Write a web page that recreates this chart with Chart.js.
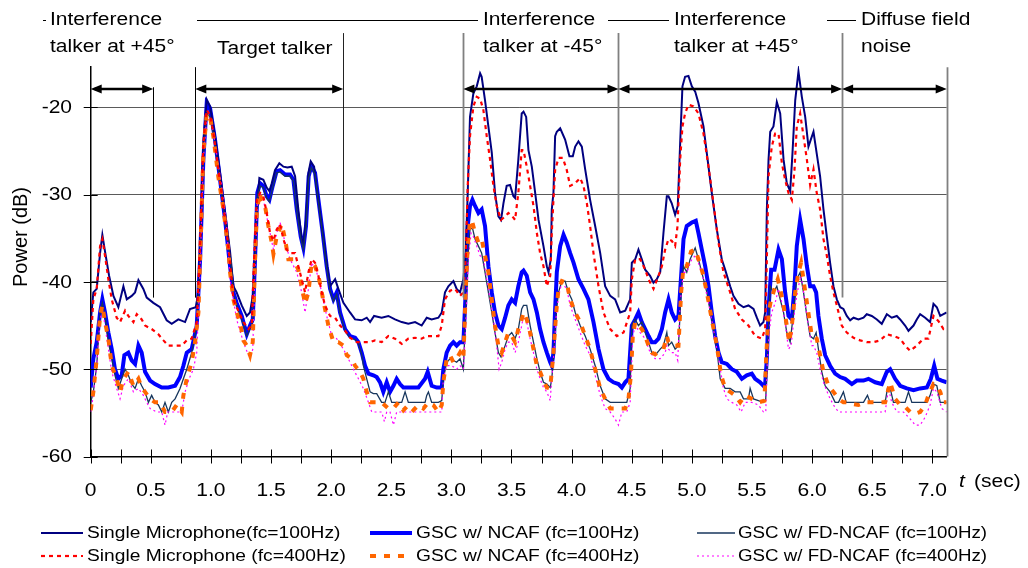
<!DOCTYPE html>
<html>
<head>
<meta charset="utf-8">
<script src="https://cdn.jsdelivr.net/npm/chart.js@4.4.1/dist/chart.umd.min.js"></script>
<style>
  html, body { margin: 0; padding: 0; background: #fff; }
  canvas { display: block; }
</style>
</head>
<body>
<canvas id="canvas" width="1028" height="568"></canvas>
<script>
// [time (sec), power (dB)]
const singleMic100 = [
  [0,-44.6],[0.022,-41.2],[0.05,-40.8],[0.078,-36.7],[0.097,-34.6],[0.119,-36.5],[0.153,-39.3],[0.189,-41.6],[0.23,-42.9],[0.272,-40.5],
  [0.3,-42.0],[0.341,-41.6],[0.369,-41.2],[0.397,-39.8],[0.438,-40.8],[0.466,-41.8],[0.521,-42.4],[0.577,-42.9],[0.632,-44.4],[0.674,-44.8],
  [0.729,-44.3],[0.785,-44.6],[0.826,-43.1],[0.874,-42.9],[0.896,-41.2],[0.918,-33.6],[0.937,-24.1],[0.965,-19.1],[0.993,-19.9],[1.034,-23.3],
  [1.076,-27.5],[1.118,-32.1],[1.159,-36.5],[1.187,-40.5],[1.214,-41.2],[1.256,-42.7],[1.298,-43.9],[1.325,-43.5],[1.353,-41.2],[1.381,-32.1],
  [1.403,-28.1],[1.436,-28.3],[1.464,-29.2],[1.486,-29.6],[1.506,-28.7],[1.533,-27.2],[1.569,-26.4],[1.603,-26.8],[1.636,-26.9],[1.672,-26.8],
  [1.7,-27.9],[1.727,-31.7],[1.755,-35.1],[1.769,-35.7],[1.791,-32.9],[1.811,-27.5],[1.83,-26.2],[1.858,-26.8],[1.886,-29.8],[1.922,-33.6],
  [1.958,-37.4],[1.991,-40.5],[2.033,-39.7],[2.06,-40.8],[2.102,-42.4],[2.157,-43.5],[2.199,-44.3],[2.254,-44.4],[2.296,-44.1],[2.324,-44.6],
  [2.357,-43.9],[2.42,-44.1],[2.476,-43.9],[2.531,-44.3],[2.587,-44.6],[2.642,-44.8],[2.698,-44.6],[2.753,-45.0],[2.795,-44.1],[2.836,-44.3],
  [2.892,-44.1],[2.92,-43.5],[2.947,-41.2],[2.975,-40.5],[3.017,-39.9],[3.044,-40.8],[3.072,-41.2],[3.1,-39.7],[3.119,-36.7],[3.136,-29.8],
  [3.155,-21.1],[3.183,-18.4],[3.211,-17.6],[3.239,-16.1],[3.252,-16.5],[3.28,-19.2],[3.308,-22.2],[3.336,-25.2],[3.363,-29.8],[3.391,-32.5],
  [3.413,-32.9],[3.433,-31.0],[3.46,-29.0],[3.488,-28.9],[3.516,-30.2],[3.53,-30.4],[3.557,-26.0],[3.585,-20.7],[3.6,-20.5],[3.622,-21.1],
  [3.641,-24.9],[3.669,-26.8],[3.697,-29.8],[3.725,-32.9],[3.766,-35.9],[3.794,-38.2],[3.808,-38.9],[3.827,-37.4],[3.835,-31.7],[3.849,-29.8],
  [3.863,-23.3],[3.877,-22.8],[3.905,-22.4],[3.946,-23.7],[3.982,-25.6],[4.01,-25.6],[4.03,-24.5],[4.057,-23.9],[4.085,-24.5],[4.113,-27.1],
  [4.154,-30.6],[4.196,-33.6],[4.238,-36.7],[4.279,-40.5],[4.321,-41.6],[4.362,-42.0],[4.404,-43.5],[4.446,-43.3],[4.487,-42.0],[4.501,-37.8],
  [4.529,-37.4],[4.556,-36.3],[4.584,-37.4],[4.612,-38.6],[4.653,-39.3],[4.681,-40.1],[4.709,-39.7],[4.737,-38.9],[4.764,-34.4],[4.792,-30.2],
  [4.806,-30.2],[4.833,-31.0],[4.861,-32.3],[4.883,-31.3],[4.903,-24.1],[4.922,-17.6],[4.944,-16.5],[4.972,-16.4],[5.0,-17.6],[5.028,-18.2],
  [5.055,-19.5],[5.097,-22.2],[5.125,-25.3],[5.166,-29.8],[5.208,-34.0],[5.249,-37.4],[5.277,-38.6],[5.319,-40.5],[5.346,-41.6],[5.388,-42.5],
  [5.43,-42.9],[5.471,-42.7],[5.513,-43.1],[5.541,-44.1],[5.568,-45.0],[5.596,-44.6],[5.61,-43.5],[5.624,-31.7],[5.638,-26.0],[5.652,-22.8],
  [5.679,-22.2],[5.707,-19.4],[5.735,-20.7],[5.763,-26.0],[5.79,-28.7],[5.818,-29.6],[5.837,-25.3],[5.86,-19.2],[5.887,-15.9],[5.915,-18.8],
  [5.943,-21.1],[5.97,-24.5],[6.012,-22.8],[6.039,-25.3],[6.067,-27.9],[6.095,-31.7],[6.123,-34.8],[6.15,-37.8],[6.178,-40.5],[6.206,-42.0],
  [6.234,-42.9],[6.261,-43.1],[6.289,-43.9],[6.317,-44.4],[6.345,-44.1],[6.386,-44.3],[6.428,-44.1],[6.455,-43.7],[6.497,-43.9],[6.539,-44.3],
  [6.58,-44.8],[6.622,-43.7],[6.663,-44.1],[6.705,-43.9],[6.733,-44.3],[6.774,-45.0],[6.802,-45.6],[6.844,-45.0],[6.871,-44.3],[6.899,-43.7],
  [6.941,-44.1],[6.982,-44.6],[7.01,-42.5],[7.038,-42.9],[7.066,-43.9],[7.093,-43.7],[7.12,-43.5]
];
const singleMic400 = [
  [0,-47.1],[0.022,-42.0],[0.05,-40.8],[0.078,-35.9],[0.097,-35.1],[0.119,-37.0],[0.147,-39.7],[0.175,-42.0],[0.216,-44.1],[0.244,-44.6],
  [0.286,-43.3],[0.313,-43.9],[0.355,-44.6],[0.383,-43.7],[0.424,-44.3],[0.452,-45.0],[0.507,-45.4],[0.563,-46.0],[0.605,-46.7],[0.646,-47.3],
  [0.702,-47.3],[0.757,-47.3],[0.799,-46.7],[0.84,-46.5],[0.882,-44.6],[0.91,-35.5],[0.937,-24.1],[0.965,-20.3],[0.993,-20.9],[1.021,-23.0],
  [1.062,-27.2],[1.104,-31.4],[1.145,-35.9],[1.187,-42.0],[1.214,-42.9],[1.27,-44.6],[1.312,-45.4],[1.339,-45.0],[1.359,-37.4],[1.381,-30.6],
  [1.409,-29.8],[1.436,-30.2],[1.464,-32.1],[1.492,-34.4],[1.52,-35.3],[1.547,-34.0],[1.575,-33.4],[1.603,-35.1],[1.63,-36.3],[1.658,-36.7],
  [1.7,-36.7],[1.727,-38.2],[1.755,-39.7],[1.783,-41.2],[1.811,-38.9],[1.838,-37.4],[1.866,-37.8],[1.894,-39.3],[1.922,-41.2],[1.949,-42.7],
  [1.991,-43.9],[2.033,-44.1],[2.074,-45.0],[2.116,-45.6],[2.157,-46.4],[2.213,-46.9],[2.268,-46.9],[2.324,-46.9],[2.365,-46.7],[2.42,-46.9],
  [2.476,-46.2],[2.531,-46.5],[2.587,-47.1],[2.642,-46.5],[2.698,-46.4],[2.753,-46.5],[2.795,-46.2],[2.836,-46.2],[2.892,-46.2],[2.92,-45.0],
  [2.947,-42.0],[2.989,-41.0],[3.031,-40.8],[3.072,-41.6],[3.1,-41.2],[3.119,-37.4],[3.136,-29.0],[3.155,-23.3],[3.183,-19.9],[3.211,-18.8],
  [3.239,-19.0],[3.266,-20.3],[3.294,-23.3],[3.322,-26.0],[3.35,-29.0],[3.377,-31.3],[3.413,-32.9],[3.447,-32.5],[3.474,-32.1],[3.508,-32.5],
  [3.53,-32.9],[3.557,-29.8],[3.585,-24.9],[3.6,-24.9],[3.627,-26.8],[3.655,-29.0],[3.683,-31.3],[3.711,-34.4],[3.738,-36.7],[3.766,-38.2],
  [3.794,-40.5],[3.822,-39.3],[3.835,-34.4],[3.849,-30.6],[3.863,-27.2],[3.891,-25.8],[3.927,-25.8],[3.96,-27.2],[3.988,-29.0],[4.03,-28.7],
  [4.071,-28.1],[4.099,-29.0],[4.127,-31.0],[4.154,-33.6],[4.182,-36.7],[4.224,-40.5],[4.265,-43.5],[4.321,-45.4],[4.376,-46.2],[4.432,-45.8],
  [4.487,-43.5],[4.501,-39.7],[4.529,-37.4],[4.57,-37.4],[4.612,-38.6],[4.64,-39.7],[4.681,-40.8],[4.723,-39.3],[4.751,-38.2],[4.778,-36.3],
  [4.806,-35.1],[4.833,-35.3],[4.861,-35.9],[4.881,-33.6],[4.903,-26.0],[4.922,-22.2],[4.944,-20.7],[4.972,-19.7],[5.014,-19.9],[5.055,-20.7],
  [5.097,-23.0],[5.139,-26.8],[5.18,-31.0],[5.222,-35.5],[5.263,-38.9],[5.319,-41.2],[5.36,-43.1],[5.416,-44.3],[5.471,-45.0],[5.527,-46.2],
  [5.582,-46.5],[5.61,-45.4],[5.624,-37.4],[5.638,-27.9],[5.665,-24.5],[5.693,-23.0],[5.721,-23.0],[5.749,-26.4],[5.776,-28.3],[5.804,-29.8],
  [5.832,-30.6],[5.854,-27.2],[5.873,-22.2],[5.901,-20.7],[5.929,-23.3],[5.957,-26.0],[5.984,-28.9],[6.012,-27.1],[6.039,-29.8],[6.067,-31.7],
  [6.095,-35.1],[6.123,-37.0],[6.15,-39.3],[6.178,-41.2],[6.206,-42.7],[6.247,-45.0],[6.289,-45.8],[6.345,-46.4],[6.4,-46.7],[6.455,-46.9],
  [6.511,-46.9],[6.566,-46.7],[6.622,-46.0],[6.677,-46.2],[6.733,-46.5],[6.774,-47.3],[6.816,-47.9],[6.871,-47.3],[6.927,-46.5],[6.968,-46.5],
  [7.01,-43.9],[7.052,-44.5],[7.093,-45.4],[7.12,-45.2]
];
const gscNcaf100 = [
  [0,-52.1],[0.022,-48.8],[0.05,-46.9],[0.078,-43.5],[0.097,-42.0],[0.119,-43.5],[0.147,-45.8],[0.175,-47.7],[0.202,-50.0],[0.23,-51.1],
  [0.258,-50.7],[0.28,-48.4],[0.313,-48.1],[0.341,-49.0],[0.369,-49.4],[0.397,-47.3],[0.424,-48.1],[0.452,-50.3],[0.494,-51.3],[0.535,-51.7],
  [0.591,-52.1],[0.646,-52.1],[0.702,-51.9],[0.743,-50.9],[0.771,-49.6],[0.799,-48.1],[0.84,-47.7],[0.882,-45.0],[0.91,-37.4],[0.937,-26.0],
  [0.965,-19.5],[0.993,-20.1],[1.034,-23.7],[1.076,-28.3],[1.118,-32.9],[1.159,-38.2],[1.187,-41.2],[1.214,-42.4],[1.256,-43.9],[1.298,-46.0],
  [1.325,-45.0],[1.348,-44.3],[1.367,-37.4],[1.386,-29.8],[1.409,-28.7],[1.436,-29.0],[1.464,-30.2],[1.486,-30.6],[1.514,-29.0],[1.547,-27.3],
  [1.575,-27.2],[1.617,-27.7],[1.658,-27.7],[1.686,-28.3],[1.714,-31.7],[1.747,-34.8],[1.769,-36.1],[1.791,-33.6],[1.813,-27.9],[1.836,-26.7],
  [1.866,-27.5],[1.894,-30.6],[1.93,-34.4],[1.963,-38.2],[1.991,-40.8],[2.019,-42.0],[2.046,-41.2],[2.074,-43.5],[2.116,-45.4],[2.157,-46.2],
  [2.199,-46.4],[2.227,-46.9],[2.254,-48.1],[2.282,-49.6],[2.31,-50.5],[2.351,-50.7],[2.379,-50.9],[2.407,-51.5],[2.434,-52.6],[2.462,-51.5],
  [2.49,-52.6],[2.518,-51.9],[2.545,-51.1],[2.573,-51.7],[2.601,-52.1],[2.67,-52.1],[2.726,-52.1],[2.781,-51.1],[2.803,-50.3],[2.836,-51.9],
  [2.878,-52.1],[2.92,-52.1],[2.933,-50.0],[2.961,-48.1],[2.989,-47.3],[3.017,-46.9],[3.044,-47.3],[3.072,-46.9],[3.1,-46.9],[3.119,-41.2],
  [3.136,-33.6],[3.155,-31.3],[3.175,-30.6],[3.197,-31.3],[3.225,-32.1],[3.252,-31.7],[3.28,-33.6],[3.308,-38.2],[3.336,-41.2],[3.363,-43.5],
  [3.391,-45.0],[3.419,-45.4],[3.447,-44.1],[3.474,-42.7],[3.502,-42.0],[3.53,-42.4],[3.557,-40.5],[3.585,-38.9],[3.6,-38.7],[3.627,-39.3],
  [3.655,-41.2],[3.683,-42.0],[3.711,-43.5],[3.738,-45.4],[3.766,-46.9],[3.794,-48.1],[3.822,-49.2],[3.835,-49.6],[3.849,-48.1],[3.863,-43.1],
  [3.877,-38.9],[3.905,-35.9],[3.933,-34.6],[3.96,-35.5],[3.988,-36.7],[4.016,-37.8],[4.057,-39.7],[4.099,-40.8],[4.14,-42.0],[4.182,-44.6],
  [4.224,-47.7],[4.265,-50.0],[4.307,-51.1],[4.348,-51.5],[4.39,-51.7],[4.418,-52.1],[4.446,-51.5],[4.473,-51.1],[4.501,-45.0],[4.529,-44.3],
  [4.556,-43.5],[4.584,-44.6],[4.612,-45.4],[4.64,-46.2],[4.667,-46.9],[4.695,-46.9],[4.723,-46.5],[4.751,-45.4],[4.778,-43.5],[4.806,-42.0],
  [4.833,-43.5],[4.861,-44.3],[4.889,-43.9],[4.911,-39.3],[4.931,-35.1],[4.958,-33.6],[5.0,-33.2],[5.033,-33.0],[5.055,-34.4],[5.083,-36.3],
  [5.111,-38.2],[5.139,-40.5],[5.166,-43.5],[5.194,-46.2],[5.222,-48.1],[5.249,-49.2],[5.291,-49.4],[5.333,-50.0],[5.374,-50.3],[5.416,-51.1],
  [5.457,-50.7],[5.499,-50.5],[5.527,-51.1],[5.568,-51.5],[5.596,-51.9],[5.61,-51.7],[5.624,-48.8],[5.638,-43.1],[5.66,-38.6],[5.688,-38.6],
  [5.721,-36.3],[5.749,-37.4],[5.776,-41.2],[5.804,-43.9],[5.832,-44.3],[5.854,-40.5],[5.873,-35.9],[5.901,-32.9],[5.929,-35.1],[5.957,-38.2],
  [5.984,-40.5],[6.012,-40.5],[6.034,-41.2],[6.053,-43.9],[6.081,-46.5],[6.109,-48.4],[6.15,-49.6],[6.192,-50.5],[6.234,-50.9],[6.275,-51.1],
  [6.331,-51.7],[6.372,-51.3],[6.428,-51.3],[6.469,-51.1],[6.525,-51.5],[6.58,-51.7],[6.622,-50.3],[6.65,-50.0],[6.691,-51.1],[6.733,-51.9],
  [6.788,-52.2],[6.844,-52.4],[6.899,-52.2],[6.955,-52.1],[6.988,-51.1],[7.016,-49.6],[7.043,-51.1],[7.079,-51.3],[7.12,-51.5]
];
const gscNcaf400 = [
  [0,-54.7],[0.022,-52.6],[0.05,-48.8],[0.078,-43.9],[0.097,-42.7],[0.119,-44.6],[0.147,-46.5],[0.175,-49.6],[0.216,-51.1],[0.244,-52.6],
  [0.272,-51.1],[0.313,-50.3],[0.355,-51.9],[0.397,-51.1],[0.424,-52.1],[0.452,-52.6],[0.494,-53.4],[0.535,-53.8],[0.577,-53.8],[0.618,-54.9],
  [0.674,-54.9],[0.715,-54.1],[0.757,-54.9],[0.771,-53.0],[0.799,-51.1],[0.84,-49.2],[0.868,-46.9],[0.896,-43.5],[0.91,-37.4],[0.937,-25.3],
  [0.965,-20.7],[0.993,-21.1],[1.021,-23.4],[1.062,-28.0],[1.104,-31.7],[1.145,-36.3],[1.159,-38.9],[1.187,-42.0],[1.214,-43.5],[1.242,-44.6],
  [1.27,-46.7],[1.298,-47.3],[1.325,-48.4],[1.348,-46.9],[1.367,-37.4],[1.381,-32.3],[1.403,-29.8],[1.422,-30.6],[1.45,-31.3],[1.478,-33.6],
  [1.506,-35.5],[1.52,-36.8],[1.547,-34.8],[1.589,-33.4],[1.617,-35.1],[1.644,-37.4],[1.686,-37.4],[1.727,-38.6],[1.755,-40.5],[1.783,-42.5],
  [1.811,-41.2],[1.838,-37.8],[1.866,-38.2],[1.894,-39.3],[1.922,-41.2],[1.949,-43.1],[1.977,-45.0],[2.019,-46.9],[2.06,-46.9],[2.102,-47.3],
  [2.13,-48.4],[2.171,-48.8],[2.199,-49.6],[2.24,-50.3],[2.268,-51.1],[2.296,-52.6],[2.324,-53.8],[2.365,-53.8],[2.42,-53.8],[2.476,-54.5],
  [2.518,-54.5],[2.559,-53.8],[2.601,-54.7],[2.642,-54.1],[2.684,-54.7],[2.726,-54.1],[2.767,-54.5],[2.809,-53.8],[2.85,-54.1],[2.892,-54.9],
  [2.92,-54.1],[2.933,-51.5],[2.961,-48.8],[2.989,-48.4],[3.017,-49.2],[3.044,-48.8],[3.072,-48.1],[3.1,-48.8],[3.119,-41.2],[3.136,-35.9],
  [3.155,-32.9],[3.175,-33.2],[3.197,-34.4],[3.225,-35.5],[3.252,-35.1],[3.28,-37.0],[3.308,-38.9],[3.336,-42.0],[3.363,-45.0],[3.391,-47.3],
  [3.419,-48.1],[3.447,-46.9],[3.474,-45.8],[3.502,-46.2],[3.53,-46.9],[3.557,-45.4],[3.585,-44.3],[3.6,-43.5],[3.627,-44.3],[3.655,-45.8],
  [3.683,-47.7],[3.711,-49.6],[3.738,-50.3],[3.766,-51.3],[3.794,-52.1],[3.822,-52.2],[3.849,-48.1],[3.872,-43.5],[3.891,-40.8],[3.919,-39.9],
  [3.96,-40.1],[3.988,-42.0],[4.03,-43.5],[4.071,-44.6],[4.113,-46.2],[4.154,-47.7],[4.196,-50.0],[4.238,-52.2],[4.279,-53.4],[4.321,-54.5],
  [4.362,-54.5],[4.404,-54.5],[4.446,-54.5],[4.473,-53.4],[4.493,-50.7],[4.509,-46.2],[4.529,-44.6],[4.556,-45.0],[4.584,-45.4],[4.612,-46.2],
  [4.64,-47.3],[4.667,-48.1],[4.695,-48.3],[4.737,-47.9],[4.764,-47.7],[4.792,-46.2],[4.806,-46.9],[4.833,-47.3],[4.861,-47.3],[4.889,-47.3],
  [4.911,-41.2],[4.931,-38.2],[4.958,-38.2],[4.994,-36.5],[5.028,-36.3],[5.055,-37.4],[5.089,-38.9],[5.125,-41.2],[5.166,-44.3],[5.208,-47.3],
  [5.244,-50.7],[5.277,-52.2],[5.319,-52.6],[5.36,-53.0],[5.402,-53.8],[5.444,-53.0],[5.499,-53.4],[5.554,-53.8],[5.604,-53.6],[5.618,-48.8],
  [5.638,-43.5],[5.66,-42.0],[5.688,-40.8],[5.715,-39.7],[5.735,-40.8],[5.763,-42.7],[5.79,-45.0],[5.81,-46.9],[5.832,-45.0],[5.86,-41.2],
  [5.887,-38.9],[5.909,-37.8],[5.937,-40.5],[5.965,-43.1],[5.998,-46.2],[6.012,-46.2],[6.039,-46.5],[6.067,-48.4],[6.095,-50.3],[6.137,-51.9],
  [6.178,-52.6],[6.22,-53.4],[6.261,-53.8],[6.303,-53.8],[6.345,-54.0],[6.386,-54.1],[6.442,-53.8],[6.497,-53.8],[6.539,-53.8],[6.608,-53.8],
  [6.65,-51.5],[6.691,-53.4],[6.733,-54.1],[6.774,-54.3],[6.816,-54.9],[6.858,-55.1],[6.899,-54.9],[6.941,-54.1],[6.968,-53.0],[7.01,-51.7],
  [7.038,-51.9],[7.066,-52.6],[7.093,-53.8],[7.12,-53.8]
];
const fdNcaf100 = [
  [0,-53.8],[0.022,-52.6],[0.05,-49.6],[0.078,-43.5],[0.097,-42.4],[0.119,-43.9],[0.147,-46.9],[0.175,-48.8],[0.202,-50.7],[0.23,-52.2],
  [0.258,-51.1],[0.286,-50.0],[0.313,-50.7],[0.341,-51.7],[0.369,-52.2],[0.397,-51.1],[0.424,-51.9],[0.452,-52.6],[0.48,-53.8],[0.507,-53.0],
  [0.535,-53.8],[0.563,-54.1],[0.591,-54.9],[0.618,-53.8],[0.646,-54.9],[0.674,-53.8],[0.702,-53.4],[0.743,-52.2],[0.771,-51.1],[0.799,-50.0],
  [0.84,-48.1],[0.882,-45.0],[0.91,-37.4],[0.937,-26.0],[0.965,-20.7],[0.993,-21.1],[1.034,-24.1],[1.076,-28.7],[1.118,-32.9],[1.173,-38.6],
  [1.187,-41.4],[1.214,-42.7],[1.256,-44.3],[1.298,-46.2],[1.325,-45.4],[1.348,-44.6],[1.367,-37.8],[1.386,-30.2],[1.409,-29.0],[1.436,-29.2],
  [1.464,-30.4],[1.486,-30.8],[1.514,-29.2],[1.547,-27.5],[1.575,-27.4],[1.617,-27.9],[1.658,-27.9],[1.686,-28.5],[1.714,-31.9],[1.747,-35.0],
  [1.769,-36.3],[1.791,-33.8],[1.813,-28.1],[1.836,-26.9],[1.866,-27.7],[1.894,-30.8],[1.93,-34.6],[1.963,-38.4],[1.991,-41.0],[2.019,-42.2],
  [2.046,-41.4],[2.074,-43.7],[2.116,-45.6],[2.157,-46.4],[2.199,-46.6],[2.227,-47.1],[2.254,-48.3],[2.268,-49.6],[2.296,-51.1],[2.324,-52.6],
  [2.351,-52.8],[2.379,-52.8],[2.42,-53.8],[2.448,-53.8],[2.476,-52.6],[2.504,-53.8],[2.587,-53.8],[2.615,-52.6],[2.642,-53.8],[2.781,-53.8],
  [2.795,-53.0],[2.809,-52.6],[2.836,-53.8],[2.892,-53.8],[2.92,-53.6],[2.933,-51.1],[2.961,-49.2],[2.989,-48.8],[3.017,-49.0],[3.044,-49.2],
  [3.072,-48.8],[3.1,-50.0],[3.114,-45.0],[3.136,-37.4],[3.155,-34.0],[3.175,-33.8],[3.197,-35.1],[3.225,-35.9],[3.252,-36.7],[3.28,-38.9],
  [3.308,-41.2],[3.336,-43.5],[3.363,-45.8],[3.391,-48.1],[3.413,-48.6],[3.447,-47.3],[3.474,-46.2],[3.502,-45.8],[3.53,-46.5],[3.557,-45.4],
  [3.585,-43.1],[3.6,-42.7],[3.627,-42.7],[3.655,-45.0],[3.683,-46.9],[3.711,-48.8],[3.738,-50.3],[3.766,-51.5],[3.794,-51.7],[3.822,-52.1],
  [3.835,-51.1],[3.849,-48.8],[3.872,-43.5],[3.891,-41.2],[3.919,-39.9],[3.946,-39.9],[3.974,-41.2],[4.002,-42.0],[4.03,-43.5],[4.071,-45.0],
  [4.113,-46.2],[4.154,-47.7],[4.196,-49.6],[4.238,-51.9],[4.279,-53.4],[4.321,-53.8],[4.362,-53.8],[4.404,-53.8],[4.459,-53.8],[4.487,-52.2],
  [4.501,-45.0],[4.529,-44.3],[4.556,-45.0],[4.584,-44.6],[4.612,-45.8],[4.64,-46.9],[4.667,-48.1],[4.695,-48.4],[4.737,-47.7],[4.764,-47.3],
  [4.792,-45.8],[4.806,-47.3],[4.833,-46.9],[4.861,-47.7],[4.889,-47.3],[4.911,-41.2],[4.931,-38.2],[4.958,-38.9],[4.986,-37.4],[5.028,-36.1],
  [5.055,-37.4],[5.083,-38.9],[5.125,-41.2],[5.166,-44.3],[5.208,-47.7],[5.236,-51.1],[5.277,-52.2],[5.319,-52.2],[5.36,-52.6],[5.402,-52.6],
  [5.43,-53.4],[5.471,-53.4],[5.485,-52.2],[5.513,-53.4],[5.554,-53.6],[5.596,-53.8],[5.615,-53.4],[5.632,-46.9],[5.652,-40.5],[5.679,-41.2],
  [5.707,-40.5],[5.735,-42.0],[5.763,-43.5],[5.79,-45.8],[5.818,-46.9],[5.846,-43.5],[5.873,-39.7],[5.901,-38.9],[5.929,-41.2],[5.957,-43.9],
  [5.984,-46.2],[6.012,-46.5],[6.034,-45.8],[6.053,-47.7],[6.081,-50.3],[6.109,-51.9],[6.15,-52.6],[6.192,-53.8],[6.22,-53.8],[6.261,-52.6],
  [6.284,-53.8],[6.331,-53.8],[6.386,-53.8],[6.428,-53.8],[6.461,-53.0],[6.483,-53.8],[6.539,-53.8],[6.608,-53.8],[6.627,-52.2],[6.65,-52.2],
  [6.677,-53.8],[6.774,-53.8],[6.802,-52.6],[6.83,-53.8],[6.955,-53.8],[6.982,-53.0],[7.01,-51.7],[7.038,-51.9],[7.066,-53.8],[7.12,-53.8]
];
const fdNcaf400 = [
  [0,-54.9],[0.022,-53.0],[0.05,-49.6],[0.078,-44.3],[0.097,-43.1],[0.119,-45.0],[0.147,-47.7],[0.175,-50.3],[0.216,-52.2],[0.244,-53.4],
  [0.272,-51.9],[0.313,-51.1],[0.355,-52.6],[0.397,-52.2],[0.438,-53.0],[0.466,-53.8],[0.494,-54.5],[0.549,-54.9],[0.591,-54.9],[0.618,-56.4],
  [0.641,-54.9],[0.688,-54.9],[0.757,-54.9],[0.785,-52.6],[0.818,-51.1],[0.854,-50.0],[0.882,-48.1],[0.91,-38.6],[0.937,-26.0],[0.965,-21.1],
  [1.007,-21.8],[1.048,-25.3],[1.09,-29.1],[1.131,-33.6],[1.159,-39.7],[1.214,-44.3],[1.27,-46.9],[1.312,-48.4],[1.331,-48.6],[1.348,-47.7],
  [1.367,-38.2],[1.386,-31.1],[1.409,-29.8],[1.436,-30.6],[1.464,-32.5],[1.492,-34.4],[1.52,-36.3],[1.547,-34.4],[1.575,-33.2],[1.617,-35.5],
  [1.658,-37.4],[1.714,-38.9],[1.755,-41.2],[1.783,-43.5],[1.811,-40.8],[1.838,-37.8],[1.88,-38.9],[1.922,-41.2],[1.963,-43.9],[2.005,-46.2],
  [2.046,-46.5],[2.102,-47.7],[2.143,-48.8],[2.185,-50.0],[2.227,-51.1],[2.268,-52.2],[2.31,-53.8],[2.338,-54.9],[2.379,-54.9],[2.42,-54.9],
  [2.443,-56.0],[2.462,-54.9],[2.49,-54.9],[2.518,-56.4],[2.545,-54.9],[2.92,-54.9],[2.933,-51.1],[2.961,-49.6],[3.003,-49.6],[3.044,-50.0],
  [3.072,-49.6],[3.1,-50.0],[3.119,-45.0],[3.141,-37.4],[3.164,-34.4],[3.183,-34.8],[3.211,-35.9],[3.239,-37.0],[3.266,-37.4],[3.294,-39.7],
  [3.322,-42.0],[3.35,-44.3],[3.377,-47.3],[3.397,-50.0],[3.419,-49.2],[3.447,-47.7],[3.474,-46.9],[3.502,-46.9],[3.53,-48.1],[3.557,-46.9],
  [3.585,-45.0],[3.6,-43.9],[3.627,-44.6],[3.655,-46.5],[3.683,-48.1],[3.711,-50.0],[3.738,-51.1],[3.766,-52.1],[3.794,-52.6],[3.822,-53.6],
  [3.835,-51.1],[3.849,-48.8],[3.872,-43.9],[3.891,-41.6],[3.919,-40.1],[3.96,-40.8],[3.988,-42.7],[4.03,-44.3],[4.071,-45.8],[4.113,-47.3],
  [4.154,-48.4],[4.196,-50.7],[4.238,-53.0],[4.279,-54.5],[4.321,-54.9],[4.362,-55.7],[4.39,-56.4],[4.418,-54.9],[4.459,-54.9],[4.487,-53.8],
  [4.509,-46.2],[4.529,-45.0],[4.57,-45.8],[4.612,-46.5],[4.653,-48.1],[4.695,-48.8],[4.737,-48.8],[4.778,-48.1],[4.792,-47.3],[4.806,-47.7],
  [4.833,-48.1],[4.861,-48.1],[4.883,-49.0],[4.903,-42.4],[4.931,-38.9],[4.958,-38.9],[5.0,-37.4],[5.028,-37.0],[5.055,-37.8],[5.097,-39.7],
  [5.139,-42.4],[5.18,-45.4],[5.222,-48.8],[5.263,-52.2],[5.291,-53.4],[5.333,-53.8],[5.374,-54.1],[5.41,-54.9],[5.444,-53.8],[5.499,-53.8],
  [5.554,-54.1],[5.596,-54.9],[5.615,-54.9],[5.627,-49.6],[5.643,-45.8],[5.665,-43.5],[5.693,-42.4],[5.721,-40.8],[5.749,-42.4],[5.776,-44.6],
  [5.804,-47.7],[5.826,-47.3],[5.86,-42.7],[5.887,-40.5],[5.909,-39.3],[5.937,-41.9],[5.965,-44.6],[5.998,-47.3],[6.012,-47.3],[6.039,-48.1],
  [6.067,-50.0],[6.095,-51.5],[6.137,-53.0],[6.178,-54.1],[6.22,-54.9],[6.289,-54.9],[6.372,-54.9],[6.455,-54.9],[6.539,-54.9],[6.608,-54.9],
  [6.636,-52.2],[6.663,-53.8],[6.705,-54.9],[6.76,-54.9],[6.816,-55.7],[6.858,-56.4],[6.899,-56.4],[6.941,-55.5],[6.982,-54.1],[7.01,-52.2],
  [7.038,-52.6],[7.079,-54.5],[7.12,-54.9]
];

const yTicks = [-60, -50, -40, -30, -20];
const xTickTimes = [0,0.25,0.5,0.75,1,1.25,1.5,1.75,2,2.25,2.5,2.75,3,3.25,3.5,3.75,4,4.25,4.5,4.75,5,5.25,5.5,5.75,6,6.25,6.5,6.75,7];
const xLabelTimes = [0,0.5,1,1.5,2,2.5,3,3.5,4,4.5,5,5.5,6,6.5,7];
const xLabels = ['0','0.5','1.0','1.5','2.0','2.5','3.0','3.5','4.0','4.5','5.0','5.5','6.0','6.5','7.0'];

// section boundaries of the recording (sec)
const sections = [0, 0.52, 0.87, 2.1, 3.1, 4.39, 6.25, 7.12];

const FONT = '"Liberation Sans", Arial, sans-serif';
const SX = 1.2; // the original figure text is a bit wide

function pts(a) { return a.map(p => ({x: p[0], y: p[1]})); }

function txt(ctx, s, x, y, size, align, base, italic) {
  ctx.save();
  ctx.translate(x, y);
  ctx.scale(SX, 1);
  ctx.font = (italic ? 'italic ' : '') + size + 'px ' + FONT;
  ctx.textAlign = align || 'left';
  ctx.textBaseline = base || 'alphabetic';
  ctx.fillStyle = '#000';
  ctx.fillText(s, 0, 0);
  ctx.restore();
}

function seg(ctx, x1, y1, x2, y2) {
  ctx.beginPath(); ctx.moveTo(x1, y1); ctx.lineTo(x2, y2); ctx.stroke();
}

function arrow(ctx, x1, x2, y) {
  ctx.lineWidth = 2.5;
  ctx.strokeStyle = '#000';
  ctx.fillStyle = '#000';
  seg(ctx, x1 + 4, y, x2 - 4, y);
  ctx.beginPath();
  ctx.moveTo(x1, y); ctx.lineTo(x1 + 11, y - 4.5); ctx.lineTo(x1 + 11, y + 4.5); ctx.closePath(); ctx.fill();
  ctx.beginPath();
  ctx.moveTo(x2, y); ctx.lineTo(x2 - 11, y - 4.5); ctx.lineTo(x2 - 11, y + 4.5); ctx.closePath(); ctx.fill();
}

const overlay = {
  id: 'overlay',
  afterDraw(chart) {
    const ctx = chart.ctx, xs = chart.scales.x, ys = chart.scales.y, area = chart.chartArea;
    const X = v => xs.getPixelForValue(v), Y = v => ys.getPixelForValue(v);
    ctx.save();

    // top frame line, interrupted by the label boxes
    ctx.strokeStyle = '#000'; ctx.lineWidth = 1;
    const topY = Math.round(Y(-10)) + 0.5;
    seg(ctx, 43, topY, area.right, topY);
    ctx.fillStyle = '#fff';
    [[46, 197], [478, 608], [669, 827], [856, 1028]].forEach(b => ctx.fillRect(b[0], 0, b[1] - b[0], 66));

    // section marker lines
    const marks = [
      [sections[1], -17.7, -41.8, '#000', 1],
      [sections[2], -15.4, -41.8, '#000', 1],
      [sections[3], -11.5, -41.8, '#222', 1],
      [sections[4], -11.5, -41.8, '#808080', 1.8],
      [sections[5], -11.5, -41.8, '#808080', 1.8],
      [sections[6], -11.5, -41.8, '#808080', 1.8],
      [sections[7], -15.4, -60, '#808080', 1.8]
    ];
    marks.forEach(m => {
      ctx.strokeStyle = m[3]; ctx.lineWidth = m[4];
      seg(ctx, Math.round(X(m[0])) + 0.5, Y(m[1]), Math.round(X(m[0])) + 0.5, Y(m[2]));
    });

    // arrows spanning each section
    const ay = Y(-17.9);
    arrow(ctx, X(sections[0]), X(sections[1]), ay);
    arrow(ctx, X(sections[2]), X(sections[3]), ay);
    arrow(ctx, X(sections[4]), X(sections[5]), ay);
    arrow(ctx, X(sections[5]), X(sections[6]), ay);
    arrow(ctx, X(sections[6]), X(sections[7]), ay);

    // section labels
    txt(ctx, 'Interference', 50, 25, 17.5);
    txt(ctx, 'talker at +45°', 50, 52, 17.5);
    txt(ctx, 'Target talker', 217, 54, 17.5);
    txt(ctx, 'Interference', 483, 25, 17.5);
    txt(ctx, 'talker at -45°', 483, 52, 17.5);
    txt(ctx, 'Interference', 674, 25, 17.5);
    txt(ctx, 'talker at +45°', 674, 52, 17.5);
    txt(ctx, 'Diffuse field', 861, 25, 17.5);
    txt(ctx, 'noise', 861, 52, 17.5);

    // axis tick marks (crossing the axes)
    ctx.strokeStyle = '#000'; ctx.lineWidth = 1;
    xTickTimes.forEach(t => {
      const px = Math.round(X(t)) + 0.5;
      seg(ctx, px, area.bottom - 7, px, area.bottom + 7);
    });
    yTicks.forEach(v => {
      const py = Math.round(Y(v)) + 0.5;
      seg(ctx, area.left - 7, py, area.left + 7, py);
    });

    // tick labels
    xLabelTimes.forEach((t, i) => txt(ctx, xLabels[i], X(t), area.bottom + 39, 17.5, 'center'));
    yTicks.forEach(v => txt(ctx, String(v), 72, Y(v) + 1, 17.5, 'right', 'middle'));

    // axis titles
    txt(ctx, 't', 959, 487, 17.5, 'left', 'alphabetic', true);
    txt(ctx, '(sec)', 974, 487, 17.5);
    ctx.save();
    ctx.translate(21, 237);
    ctx.rotate(-Math.PI / 2);
    ctx.font = '20px ' + FONT;
    ctx.textAlign = 'center';
    ctx.textBaseline = 'middle';
    ctx.fillStyle = '#000';
    ctx.fillText('Power (dB)', 0, 0);
    ctx.restore();

    // legend, three columns by two rows
    const slots = [[41, 533], [41, 556], [370, 533], [370, 556], [697, 533], [697, 556]];
    chart.data.datasets.forEach((ds, i) => {
      const s = slots[i];
      ctx.save();
      ctx.strokeStyle = ds.borderColor;
      ctx.lineWidth = ds.borderWidth;
      ctx.setLineDash(ds.borderDash || []);
      seg(ctx, s[0], s[1], s[0] + (i < 4 ? 42 : 38), s[1]);
      ctx.restore();
      txt(ctx, ds.label, s[0] + (i < 4 ? 46 : 41), s[1] + 1, i < 4 ? 16 : 15.6, 'left', 'middle');
    });

    ctx.restore();
  }
};

const ctx = document.getElementById('canvas').getContext('2d');
const myChart = new Chart(ctx, {
  type: 'line',
  data: {
    datasets: [
      { label: 'Single Microphone(fc=100Hz)', data: pts(singleMic100), borderColor: '#000080', borderWidth: 2, order: 4 },
      { label: 'Single Microphone (fc=400Hz)', data: pts(singleMic400), borderColor: '#ff0000', borderWidth: 2.2, borderDash: [4, 4], order: 0 },
      { label: 'GSC w/ NCAF (fc=100Hz)', data: pts(gscNcaf100), borderColor: '#0000ff', borderWidth: 4, order: 5 },
      { label: 'GSC w/ NCAF (fc=400Hz)', data: pts(gscNcaf400), borderColor: '#ff6600', borderWidth: 4, borderDash: [6, 8], order: 1 },
      { label: 'GSC w/ FD-NCAF (fc=100Hz)', data: pts(fdNcaf100), borderColor: '#17365d', borderWidth: 1.3, order: 3 },
      { label: 'GSC w/ FD-NCAF (fc=400Hz)', data: pts(fdNcaf400), borderColor: '#ff00ff', borderWidth: 1.2, borderDash: [2, 3], order: 2 }
    ]
  },
  options: {
    responsive: false,
    devicePixelRatio: 1,
    animation: false,
    layout: { padding: { left: 0, right: 81.3, top: 20, bottom: 0 } },
    elements: { point: { radius: 0 }, line: { tension: 0, fill: false } },
    plugins: { legend: { display: false }, tooltip: { enabled: false } },
    scales: {
      x: {
        type: 'linear',
        min: 0,
        max: 7.12,
        grid: { display: false },
        border: { display: true, color: '#000', width: 1.5 },
        ticks: { display: false },
        afterFit: s => { s.height = 111.5; }
      },
      y: {
        min: -60,
        max: -10,
        grid: { color: '#5a5a5a', lineWidth: 1, drawTicks: false },
        border: { display: true, color: '#000', width: 1.5 },
        ticks: { display: false },
        afterBuildTicks: s => { s.ticks = yTicks.map(v => ({ value: v })); },
        afterFit: s => { s.width = 90.7; }
      }
    }
  },
  plugins: [overlay]
});
</script>
</body>
</html>
